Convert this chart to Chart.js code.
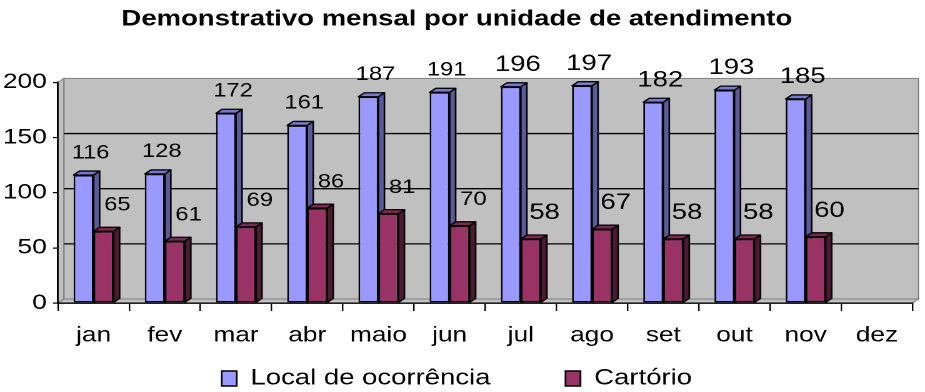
<!DOCTYPE html>
<html>
<head>
<meta charset="utf-8">
<script src="https://cdn.jsdelivr.net/npm/chart.js@4/dist/chart.umd.min.js"></script>
<style>
html,body{margin:0;padding:0;background:#fff;overflow:hidden}
#wrap{width:740px;height:392px;transform:scaleX(1.25);transform-origin:0 0}
canvas{display:block}
</style>
</head>
<body>
<div id="wrap"><canvas id="c" width="740" height="392"></canvas></div>
<script>
const categories = ['jan','fev','mar','abr','maio','jun','jul','ago','set','out','nov','dez'];
const localValues = [116,117,172,161,187,191,196,197,182,193,185,null];
const localLabels = ['116','128','172','161','187','191','196','197','182','193','185',''];
const cartorioValues = [65,56,69,86,81,70,58,67,58,58,60,null];
const cartorioLabels = ['65','61','69','86','81','70','58','67','58','58','60',''];
const seriesNames = ['Local de ocorrência','Cartório'];
const titleText = 'Demonstrativo mensal por unidade de atendimento';
const yMin = 0, yMax = 200, yStep = 50;

const FONT = '"Liberation Sans", Arial, Helvetica, sans-serif';
Chart.defaults.font.family = FONT;
Chart.defaults.color = '#000';

const D = 4.8, H = 4;
const faceColors = [
  {front:'#9999FF', top:'#7878CC', side:'#5B5B9C'},
  {front:'#993366', top:'#7A2952', side:'#4D1A33'}
];

function hasValue(chart, ds, i){
  const v = chart.data.datasets[ds].data[i];
  return v !== null && v !== undefined;
}

function drawFaces(ctx, el, c){
  const p = el.getProps(['x','y','base','width'], true);
  const l = p.x - p.width/2, r = p.x + p.width/2;
  ctx.save();
  ctx.lineWidth = 1.3; ctx.strokeStyle = '#000'; ctx.lineJoin = 'round';
  ctx.beginPath();
  ctx.moveTo(r, p.y); ctx.lineTo(r + D, p.y - H); ctx.lineTo(r + D, p.base - H); ctx.lineTo(r, p.base);
  ctx.closePath(); ctx.fillStyle = c.side; ctx.fill(); ctx.stroke();
  ctx.beginPath();
  ctx.moveTo(l, p.y); ctx.lineTo(l + D, p.y - H); ctx.lineTo(r + D, p.y - H); ctx.lineTo(r, p.y);
  ctx.closePath(); ctx.fillStyle = c.top; ctx.fill(); ctx.stroke();
  ctx.restore();
}

const excel3d = {
  id: 'excel3d',
  afterLayout(chart){
    const lg = chart.legend;
    if (!lg) return;
    const pad = lg.options.labels.padding;
    const itemH = Math.max(lg.options.labels.font.size, lg.options.labels.boxHeight);
    lg.top = 378.5 - itemH/2 - pad;
    lg.bottom = chart.height;
    lg.height = lg.bottom - lg.top;
  },
  beforeDraw(chart){
    const {ctx, chartArea:a, scales:{y}} = chart;
    ctx.save();
    ctx.fillStyle = '#C0C0C0'; ctx.strokeStyle = '#808080'; ctx.lineWidth = 1;
    ctx.beginPath();
    ctx.moveTo(a.left, a.top); ctx.lineTo(a.left + D, a.top - H); ctx.lineTo(a.left + D, a.bottom - H); ctx.lineTo(a.left, a.bottom);
    ctx.closePath(); ctx.fill(); ctx.stroke();
    ctx.beginPath();
    ctx.moveTo(a.left, a.bottom); ctx.lineTo(a.left + D, a.bottom - H); ctx.lineTo(a.right + D, a.bottom - H); ctx.lineTo(a.right, a.bottom);
    ctx.closePath(); ctx.fill(); ctx.stroke();
    ctx.fillRect(a.left + D, a.top - H, a.right - a.left, a.bottom - a.top);
    ctx.strokeRect(a.left + D, a.top - H, a.right - a.left, a.bottom - a.top);
    ctx.strokeStyle = '#000'; ctx.lineWidth = 1.3;
    for (let v = yMin + yStep; v < yMax; v += yStep){
      const py = y.getPixelForValue(v) - H;
      ctx.beginPath(); ctx.moveTo(a.left + D, py); ctx.lineTo(a.right + D, py); ctx.stroke();
    }
    ctx.restore();
  },
  beforeDatasetsDraw(chart){
    chart.getDatasetMeta(0).data.forEach((el, i) => { if (hasValue(chart, 0, i)) drawFaces(chart.ctx, el, faceColors[0]); });
  },
  afterDatasetsDraw(chart){
    const ctx = chart.ctx;
    chart.getDatasetMeta(1).data.forEach((el, i) => { if (hasValue(chart, 1, i)) drawFaces(ctx, el, faceColors[1]); });
    const sets = [
      {ds: 0, labels: localLabels, dx: 5.6, dy: 22},
      {ds: 1, labels: cartorioLabels, dx: 11, dy: 26}
    ];
    ctx.save();
    ctx.fillStyle = '#000'; ctx.textAlign = 'center'; ctx.textBaseline = 'middle';
    sets.forEach(s => {
      chart.getDatasetMeta(s.ds).data.forEach((el, i) => {
        const txt = s.labels[i];
        if (!txt || !hasValue(chart, s.ds, i)) return;
        const size = i < 6 ? 19 : 22;
        ctx.font = size + 'px ' + FONT;
        ctx.fillText(txt, el.x + s.dx, el.y - s.dy);
      });
    });
    ctx.restore();
  }
};

new Chart(document.getElementById('c'), {
  type: 'bar',
  data: {
    labels: categories,
    datasets: [
      {label: seriesNames[0], data: localValues, backgroundColor: faceColors[0].front, borderColor: '#000', borderWidth: 1.4, borderSkipped: false},
      {label: seriesNames[1], data: cartorioValues, backgroundColor: faceColors[1].front, borderColor: '#000', borderWidth: 1.4, borderSkipped: false}
    ]
  },
  options: {
    responsive: false,
    devicePixelRatio: 2,
    animation: false,
    events: [],
    layout: {padding: {left: 1, right: 10, top: 0, bottom: 0}},
    datasets: {bar: {categoryPercentage: 0.562, barPercentage: 1}},
    scales: {
      x: {
        grid: {display: true, drawOnChartArea: false, drawTicks: true, tickLength: 8, color: '#000', lineWidth: 1.2, offset: true},
        border: {display: true, color: '#000', width: 1.4},
        ticks: {font: {size: 21}, color: '#000', padding: 12, maxRotation: 0, autoSkip: false},
        afterFit(scale){ scale.height = 46; }
      },
      y: {
        min: yMin, max: yMax,
        grid: {drawOnChartArea: false, drawTicks: true, tickLength: 4, color: '#000', lineWidth: 1.2},
        border: {display: true, color: '#000', width: 1.4},
        ticks: {stepSize: yStep, font: {size: 21}, color: '#000', padding: 5},
        afterFit(scale){ scale.width = 45.4; }
      }
    },
    plugins: {
      title: {display: true, text: titleText, color: '#000', font: {size: 22, weight: 'bold'}, padding: {top: 6, bottom: 50}},
      legend: {display: true, position: 'bottom', maxHeight: 43,
        labels: {font: {size: 22}, color: '#000', boxWidth: 12, boxHeight: 15, padding: 60}},
      tooltip: {enabled: false}
    }
  },
  plugins: [excel3d]
});
</script>
</body>
</html>
